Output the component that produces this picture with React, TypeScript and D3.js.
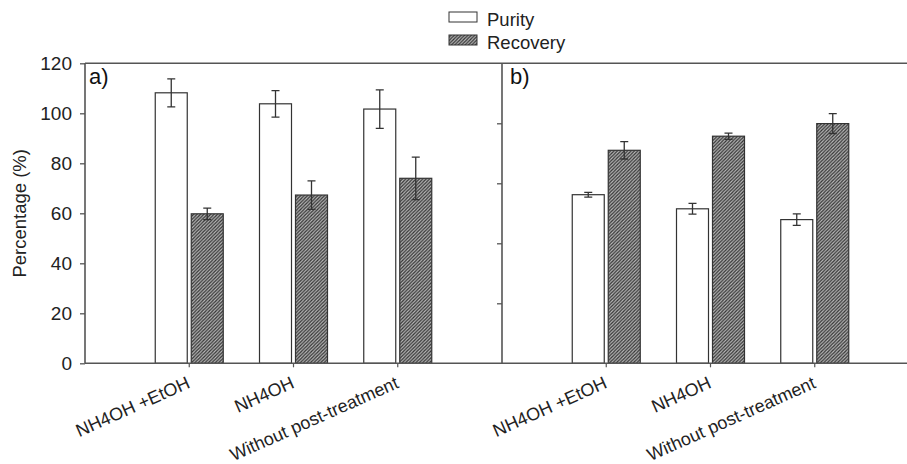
import { useEffect, useRef } from "react";
import * as d3 from "d3";

// Purity / recovery bars for two treatment sets, panel a) and panel b).
const categories = ["NH4OH +EtOH", "NH4OH", "Without post-treatment"];

const purityA = [108.2, 103.8, 101.7];
const purityErrA = [5.6, 5.3, 7.7];
const recoveryA = [59.8, 67.3, 74.0];
const recoveryErrA = [2.3, 5.7, 8.5];

const purityB = [56.2, 51.5, 47.9];
const purityErrB = [0.8, 1.8, 1.9];
const recoveryB = [71.0, 75.7, 79.9];
const recoveryErrB = [2.9, 1.05, 3.3];

const yTicksA = [0, 20, 40, 60, 80, 100, 120];
const yTicksB = [20, 40, 60, 80];

const W = 907;
const H = 464;
const TOP = 63.3;
const BOTTOM = 363.3;
const FONT = "'Liberation Sans', Arial, Helvetica, sans-serif";
const AXIS = "#555";
const INK = "#333";

export default function App() {
  const svgRef = useRef<SVGSVGElement>(null);

  useEffect(() => {
    const svg = d3.select(svgRef.current);
    svg.selectAll("*").remove();

    // hatch for the Recovery bars
    const pat = svg
      .append("defs")
      .append("pattern")
      .attr("id", "hatch")
      .attr("patternUnits", "userSpaceOnUse")
      .attr("width", 3.4)
      .attr("height", 3.4);
    pat.append("rect").attr("width", 3.4).attr("height", 3.4).attr("fill", "#bdbdbd");
    pat
      .append("path")
      .attr("d", "M-1,1 l2,-2 M0,3.4 l3.4,-3.4 M2.4,4.4 l2,-2")
      .attr("stroke", "#353535")
      .attr("stroke-width", 1.3);

    const panels = [
      { x0: 85, x1: 502, yMax: 120, ticks: yTicksA, labels: true, tag: "a)", tagX: 89,
        purity: purityA, pErr: purityErrA, recovery: recoveryA, rErr: recoveryErrA },
      { x0: 502, x1: 919, yMax: 100, ticks: yTicksB, labels: false, tag: "b)", tagX: 510,
        purity: purityB, pErr: purityErrB, recovery: recoveryB, rErr: recoveryErrB },
    ];

    panels.forEach((p) => {
      const x = d3.scaleLinear().domain([0, 4]).range([p.x0, p.x1]);
      const y = d3.scaleLinear().domain([0, p.yMax]).range([BOTTOM, TOP]);
      const g = svg.append("g");

      // y axis
      const yAxis = g
        .append("g")
        .attr("transform", `translate(${p.x0},0)`)
        .call(
          d3
            .axisLeft(y)
            .tickValues(p.ticks)
            .tickSize(5)
            .tickPadding(8)
            .tickFormat((d) => (p.labels ? String(d) : "")),
        );
      yAxis.select(".domain").remove();
      yAxis.selectAll("line").attr("stroke", AXIS).attr("stroke-width", 1.3);
      yAxis
        .selectAll("text")
        .attr("fill", "#222")
        .style("font-family", FONT)
        .style("font-size", "19px");

      // bars
      const idx = d3.range(categories.length);
      const bw = 32;
      const drawBars = (vals: number[], dx: number, fill: string) => {
        g.selectAll(null)
          .data(idx)
          .enter()
          .append("rect")
          .attr("x", (i) => x(i + 1) + dx)
          .attr("y", (i) => y(vals[i]))
          .attr("width", bw)
          .attr("height", (i) => BOTTOM - y(vals[i]))
          .attr("fill", fill)
          .attr("stroke", INK)
          .attr("stroke-width", 1.2);
      };
      drawBars(p.purity, -bw - 2, "#fff");
      drawBars(p.recovery, 2, "url(#hatch)");

      const drawErr = (vals: number[], errs: number[], dx: number) => {
        idx.forEach((i) => {
          const cx = x(i + 1) + dx;
          const lo = y(vals[i] - errs[i]);
          const hi = y(vals[i] + errs[i]);
          g.append("path")
            .attr("d", `M${cx},${lo}V${hi}M${cx - 4},${lo}h8M${cx - 4},${hi}h8`)
            .attr("fill", "none")
            .attr("stroke", INK)
            .attr("stroke-width", 1.3);
        });
      };
      drawErr(p.purity, p.pErr, -bw / 2 - 2);
      drawErr(p.recovery, p.rErr, bw / 2 + 2);

      // x axis ticks + rotated labels
      idx.forEach((i) => {
        const tx = x(i + 1);
        g.append("line")
          .attr("x1", tx)
          .attr("x2", tx)
          .attr("y1", BOTTOM)
          .attr("y2", BOTTOM + 4)
          .attr("stroke", AXIS)
          .attr("stroke-width", 1.2);
        g.append("text")
          .attr("transform", `translate(${tx + 2},${BOTTOM + 24}) rotate(-24)`)
          .attr("text-anchor", "end")
          .attr("fill", "#222")
          .style("font-family", FONT)
          .style("font-size", "18px")
          .text(categories[i]);
      });

      // frame lines
      g.append("path")
        .attr("d", `M${p.x0},${TOP}V${BOTTOM}M${p.x0},${BOTTOM}H${p.x1}M${p.x0},${TOP}H${p.x1}`)
        .attr("fill", "none")
        .attr("stroke", AXIS)
        .attr("stroke-width", 1.6);

      g.append("text")
        .attr("x", p.tagX)
        .attr("y", 84)
        .attr("fill", "#111")
        .style("font-family", FONT)
        .style("font-size", "22px")
        .text(p.tag);
    });

    // y title
    svg
      .append("text")
      .attr("transform", `translate(26,${(TOP + BOTTOM) / 2}) rotate(-90)`)
      .attr("text-anchor", "middle")
      .attr("fill", "#222")
      .style("font-family", FONT)
      .style("font-size", "18.5px")
      .text("Percentage (%)");

    // legend
    const legend = [
      { name: "Purity", fill: "#fff", y: 12 },
      { name: "Recovery", fill: "url(#hatch)", y: 35 },
    ];
    legend.forEach((l) => {
      svg
        .append("rect")
        .attr("x", 449)
        .attr("y", l.y)
        .attr("width", 28)
        .attr("height", 10)
        .attr("fill", l.fill)
        .attr("stroke", INK)
        .attr("stroke-width", 1);
      svg
        .append("text")
        .attr("x", 487)
        .attr("y", l.y + 14)
        .attr("fill", "#222")
        .style("font-family", FONT)
        .style("font-size", "18.5px")
        .text(l.name);
    });
  }, []);

  return (
    <svg
      ref={svgRef}
      width={W}
      height={H}
      style={{ position: "absolute", left: 0, top: 0, background: "#fff" }}
      role="img"
      aria-label="Purity and recovery percentages"
    />
  );
}
